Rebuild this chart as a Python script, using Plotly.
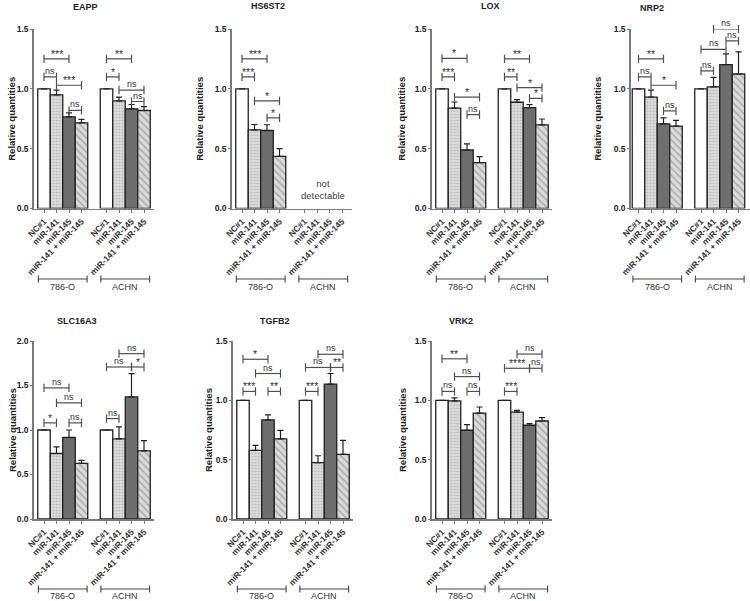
import plotly.graph_objects as go

# ---------------- data ----------------
genes = ["EAPP", "HS6ST2", "LOX", "NRP2", "SLC16A3", "TGFB2", "VRK2"]
treatments = ["NC#1", "miR-141", "miR-145", "miR-141 + miR-145"]
cell_lines = ["786-O", "ACHN"]

eapp_786 = [1.0, 0.95, 0.766, 0.716]
eapp_786_err = [0, 0.04, 0.033, 0.028]
eapp_achn = [1.0, 0.90, 0.833, 0.819]
eapp_achn_err = [0, 0.03, 0.036, 0.033]

hs6st2_786 = [1.0, 0.657, 0.652, 0.435]
hs6st2_786_err = [0, 0.045, 0.048, 0.065]
hs6st2_achn = [None, None, None, None]      # not detectable
hs6st2_achn_err = [0, 0, 0, 0]

lox_786 = [1.0, 0.838, 0.489, 0.383]
lox_786_err = [0, 0.052, 0.051, 0.05]
lox_achn = [1.0, 0.888, 0.843, 0.698]
lox_achn_err = [0, 0.022, 0.025, 0.05]

nrp2_786 = [1.0, 0.93, 0.708, 0.688]
nrp2_786_err = [0, 0.06, 0.05, 0.048]
nrp2_achn = [1.0, 1.017, 1.202, 1.124]
nrp2_achn_err = [0, 0.078, 0.09, 0.185]

slc16a3_786 = [1.0, 0.736, 0.916, 0.624]
slc16a3_786_err = [0, 0.074, 0.084, 0.034]
slc16a3_achn = [1.0, 0.90, 1.372, 0.766]
slc16a3_achn_err = [0, 0.135, 0.262, 0.114]

tgfb2_786 = [1.0, 0.578, 0.835, 0.676]
tgfb2_786_err = [0, 0.042, 0.042, 0.07]
tgfb2_achn = [1.0, 0.475, 1.137, 0.545]
tgfb2_achn_err = [0, 0.058, 0.089, 0.117]

vrk2_786 = [1.0, 0.995, 0.748, 0.893]
vrk2_786_err = [0, 0.025, 0.047, 0.051]
vrk2_achn = [1.0, 0.90, 0.79, 0.826]
vrk2_achn_err = [0, 0.016, 0.014, 0.028]

# significance brackets: (bar index from, bar index to, height, label); 0-3 = 786-O, 4-7 = ACHN
eapp_sig = [(0, 2, 1.25, "***"), (0, 1, 1.10, "ns"), (1, 3, 1.03, "***"), (2, 3, 0.82, "ns"),
            (4, 6, 1.25, "**"), (4, 5, 1.10, "*"), (5, 7, 0.99, "ns"), (6, 7, 0.894, "ns")]
hs6st2_sig = [(0, 2, 1.25, "***"), (0, 1, 1.10, "***"), (1, 3, 0.90, "*"), (2, 3, 0.758, "*")]
lox_sig = [(0, 2, 1.254, "*"), (0, 1, 1.10, "***"), (1, 3, 0.93, "*"), (2, 3, 0.785, "ns"),
           (4, 6, 1.25, "**"), (4, 5, 1.10, "**"), (5, 7, 1.01, "*"), (6, 7, 0.92, "*")]
nrp2_sig = [(0, 2, 1.25, "**"), (0, 1, 1.10, "ns"), (1, 3, 1.03, "*"), (2, 3, 0.815, "ns"),
            (4, 5, 1.15, "ns"), (4, 6, 1.33, "ns"), (5, 7, 1.50, "ns"), (6, 7, 1.40, "ns")]
slc16a3_sig = [(0, 2, 1.473, "ns"), (0, 1, 1.08, "*"), (1, 3, 1.305, "ns"), (2, 3, 1.08, "ns"),
               (4, 6, 1.708, "ns"), (5, 7, 1.858, "ns"), (6, 7, 1.708, "*"), (4, 5, 1.128, "ns")]
tgfb2_sig = [(0, 2, 1.346, "*"), (1, 3, 1.226, "ns"), (0, 1, 1.075, "***"), (2, 3, 1.075, "**"),
             (4, 6, 1.277, "ns"), (5, 7, 1.388, "ns"), (6, 7, 1.277, "**"), (4, 5, 1.075, "***")]
vrk2_sig = [(0, 2, 1.35, "**"), (1, 3, 1.20, "ns"), (0, 1, 1.075, "ns"), (2, 3, 1.075, "ns"),
            (5, 7, 1.39, "ns"), (4, 6, 1.27, "****"), (6, 7, 1.27, "ns"), (4, 5, 1.075, "***")]

y_max = [1.5, 1.5, 1.5, 1.5, 2.0, 1.5, 1.5]
y_ticks = [[0.0, 0.5, 1.0, 1.5], [0.0, 0.5, 1.0, 1.5, 2.0]]

panels = [
    (eapp_786, eapp_786_err, eapp_achn, eapp_achn_err, eapp_sig),
    (hs6st2_786, hs6st2_786_err, hs6st2_achn, hs6st2_achn_err, hs6st2_sig),
    (lox_786, lox_786_err, lox_achn, lox_achn_err, lox_sig),
    (nrp2_786, nrp2_786_err, nrp2_achn, nrp2_achn_err, nrp2_sig),
    (slc16a3_786, slc16a3_786_err, slc16a3_achn, slc16a3_achn_err, slc16a3_sig),
    (tgfb2_786, tgfb2_786_err, tgfb2_achn, tgfb2_achn_err, tgfb2_sig),
    (vrk2_786, vrk2_786_err, vrk2_achn, vrk2_achn_err, vrk2_sig),
]

# ---------------- layout geometry ----------------
W, H = 750, 601
bar_pos = [0, 1, 2, 3, 5, 6, 7, 8]
axis_left_px = [34, 232, 432, 631, 34, 233, 432]
x_ranges = [[-0.8, 8.8]] * 3 + [[-0.6, 8.9]] + [[-0.8, 8.8]] * 3
px_per_unit = 12.5
top_dom = [1 - 208.5 / H, 1 - 29 / H]
bot_dom = [1 - 519 / H, 1 - 341 / H]
title_px = [(85, 7), (268, 6), (491, 6), (652, 8), (77, 321), (275, 321), (461, 321)]
ytitle_px = [12, 200, 402, 598, 12, 208, 402]
group_line_px = [279, 589]
group_text_px = [287, 595.5]

FONT = "Liberation Sans, Arial, sans-serif"
OUT = "#222222"
AXC = "#7a7a7a"
BRC = "#505050"

styles = [
    dict(color="white"),
    dict(color="#d6d6d6", pattern=dict(shape=".", fgcolor="#9a9a9a", bgcolor="#d9d9d9", size=3, solidity=0.25)),
    dict(color="#6e6e6e"),
    dict(color="#d9d9d9", pattern=dict(shape="\\", fgcolor="#7a7a7a", bgcolor="#dadada", size=5, solidity=0.3)),
]

fig = go.Figure()
layout = dict(width=W, height=H, margin=dict(l=0, r=0, t=0, b=0, autoexpand=False),
              paper_bgcolor="white", plot_bgcolor="white", showlegend=False,
              font=dict(family=FONT, color="#222"), bargap=0)
annotations = []
shapes = []

for k, (v786, e786, vach, each, sig) in enumerate(panels):
    n = k + 1
    xa = "x" if n == 1 else f"x{n}"
    ya = "y" if n == 1 else f"y{n}"
    row_top = k < 4
    ydom = top_dom if row_top else bot_dom
    xr = x_ranges[k]
    left = axis_left_px[k] / W
    right = min(1.0, (axis_left_px[k] + (xr[1] - xr[0]) * px_per_unit) / W)

    for t in range(4):
        xs = [bar_pos[t], bar_pos[4 + t]]
        ys = [v786[t], vach[t]]
        es = [e786[t], each[t]]
        fig.add_trace(go.Bar(
            x=xs, y=ys, width=1.0, xaxis=xa, yaxis=ya,
            marker=dict(**styles[t], line=dict(color=OUT, width=1.3)),
            error_y=dict(type="data", array=es, arrayminus=[0, 0], symmetric=False,
                         color="#222", thickness=1.2, width=3, visible=True),
            hoverinfo="skip",
        ))

    # significance brackets
    for (i, j, yv, lab) in sig:
        fig.add_trace(go.Scatter(
            x=[bar_pos[i], bar_pos[j]], y=[yv, yv], xaxis=xa, yaxis=ya,
            mode="lines+markers", cliponaxis=False, hoverinfo="skip",
            line=dict(color=BRC, width=1.2),
            marker=dict(symbol="line-ns-open", size=6, line=dict(color=BRC, width=1.2)),
        ))
        annotations.append(dict(
            x=(bar_pos[i] + bar_pos[j]) / 2, y=yv, xref=xa, yref=ya, text=lab,
            showarrow=False, yanchor="bottom", yshift=-3 if lab.startswith("*") else -1,
            font=dict(size=9 if lab == "ns" else 10.5, color="#333"),
        ))

    layout["xaxis" if n == 1 else f"xaxis{n}"] = dict(
        domain=[left, right], range=xr, anchor=ya, automargin=False,
        tickvals=bar_pos, ticktext=treatments + treatments, tickangle=-45,
        ticks="outside", ticklen=3, tickcolor=AXC, tickwidth=1,
        showline=True, linecolor=AXC, linewidth=1.6, showgrid=False, zeroline=False,
        tickfont=dict(size=8.5, color="#333", family=FONT, weight="bold"), fixedrange=True,
    )
    layout["yaxis" if n == 1 else f"yaxis{n}"] = dict(
        domain=ydom, range=[0, y_max[k]], anchor=xa, automargin=False,
        tickvals=y_ticks[0] if y_max[k] == 1.5 else y_ticks[1], tickformat=".1f",
        ticks="outside", ticklen=2, tickcolor=AXC, tickwidth=1,
        showline=True, linecolor=AXC, linewidth=1.8, showgrid=False, zeroline=False,
        tickfont=dict(size=8.5, color="#222", family=FONT, weight="bold"), fixedrange=True,
    )

    # panel title
    tx, ty = title_px[k]
    annotations.append(dict(x=tx / W, y=1 - ty / H, xref="paper", yref="paper", text=genes[k],
                            showarrow=False, xanchor="center", yanchor="middle",
                            font=dict(size=9, color="#222", weight="bold")))
    # y-axis title
    annotations.append(dict(x=ytitle_px[k] / W, y=(ydom[0] + ydom[1]) / 2, xref="paper", yref="paper",
                            text="Relative quantities", textangle=-90, showarrow=False,
                            xanchor="center", yanchor="middle",
                            font=dict(size=9.5, color="#222", weight="bold")))

    # cell-line group labels
    row = 0 if row_top else 1
    gy = 1 - group_line_px[row] / H
    ty2 = 1 - group_text_px[row] / H
    for g, name in enumerate(cell_lines):
        x0 = bar_pos[4 * g] - 0.45
        x1 = bar_pos[4 * g + 3] + 0.45
        shapes.append(dict(type="line", xref=xa, yref="paper", x0=x0, x1=x1, y0=gy, y1=gy,
                           line=dict(color="#444", width=1.1)))
        for xe in (x0, x1):
            shapes.append(dict(type="line", xref=xa, yref="paper", x0=xe, x1=xe,
                               y0=gy - 3.5 / H, y1=gy + 3.5 / H, line=dict(color="#444", width=1.1)))
        annotations.append(dict(x=(x0 + x1) / 2, y=ty2, xref=xa, yref="paper", text=name,
                                showarrow=False, yanchor="middle", borderpad=0,
                                font=dict(size=9, color="#333")))

# "not detectable" note for HS6ST2 / ACHN
annotations.append(dict(x=(bar_pos[4] + bar_pos[7]) / 2, y=0.16, xref="x2", yref="y2",
                        text="not<br>detectable", showarrow=False, yanchor="middle",
                        font=dict(size=9.5, color="#444")))

layout["annotations"] = annotations
layout["shapes"] = shapes
fig.update_layout(**layout)
fig.write_html("out.html", config={"displayModeBar": False, "staticPlot": True},
               post_script="document.body.style.margin='0px';document.body.style.overflow='hidden';")
